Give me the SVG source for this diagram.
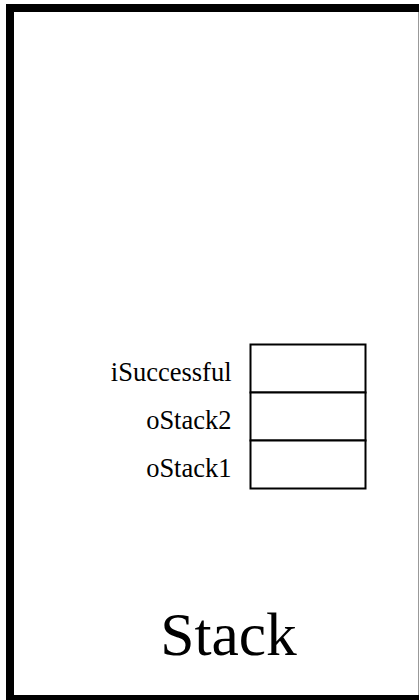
<svg xmlns="http://www.w3.org/2000/svg" width="419" height="700" viewBox="0 0 419 700">
<style>
.frame{fill:#fff;stroke:#000;stroke-width:8}
.slot{fill:#fff;stroke:#000;stroke-width:2}
.lbl{font-family:"Liberation Serif","Times New Roman",serif;font-size:26.5px;fill:#000;text-anchor:end}
.title{font-family:"Liberation Serif","Times New Roman",serif;font-size:61.5px;fill:#000;text-anchor:middle}
</style>
<rect width="419" height="700" fill="#fff"/>
<g id="stack-frame">
<rect class="frame" x="10" y="8" width="412.6" height="691"/>
<text class="title" x="228.5" y="655">Stack</text>
</g>
<g id="iSuccessful">
<rect class="slot" x="250.5" y="344.5" width="115" height="48"/>
<text class="lbl" x="231.5" y="380.5">iSuccessful</text>
</g>
<g id="oStack2">
<rect class="slot" x="250.5" y="392.5" width="115" height="48"/>
<text class="lbl" x="231.5" y="429">oStack2</text>
</g>
<g id="oStack1">
<rect class="slot" x="250.5" y="440.5" width="115" height="48"/>
<text class="lbl" x="231.5" y="476.5">oStack1</text>
</g>
<g id="connectors"/>
</svg>
